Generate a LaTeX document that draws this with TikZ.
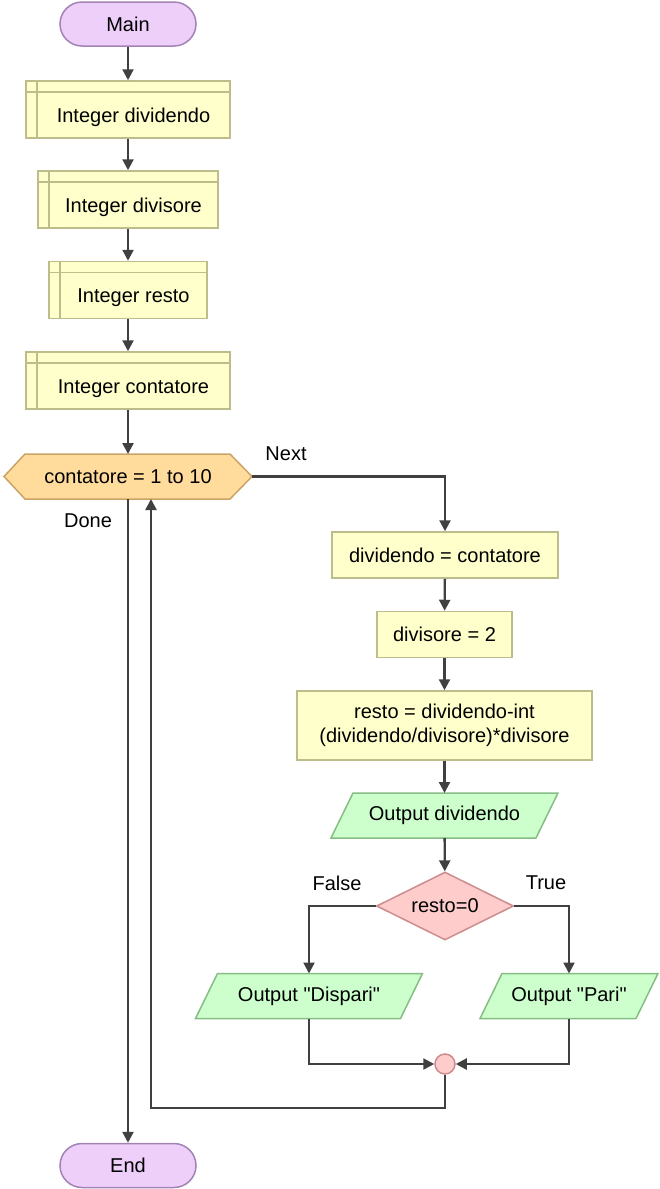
\documentclass[tikz,border=0pt]{standalone}
\usepackage{fontspec}
\setmainfont{Liberation Sans}[Ligatures=TeXOff]
\usetikzlibrary{arrows.meta,shapes.geometric,backgrounds}
\definecolor{termfill}{HTML}{EDCFFA}
\definecolor{termline}{HTML}{A383B5}
\definecolor{declfill}{HTML}{FFFFCC}
\definecolor{declline}{HTML}{BDBD8C}
\definecolor{hexfill}{HTML}{FFDB9C}
\definecolor{hexline}{HTML}{CCA366}
\definecolor{iofill}{HTML}{CCFFCC}
\definecolor{ioline}{HTML}{85BD85}
\definecolor{decfill}{HTML}{FFCCCC}
\definecolor{decline}{HTML}{CC8C8C}
\definecolor{flowline}{HTML}{404040}
\begin{document}
\begin{tikzpicture}[x=1pt,y=-1pt,
  font=\fontsize{20}{24}\selectfont,
  terminal/.style={draw=termline, fill=termfill, line width=1.5pt,
    rounded corners=22pt, minimum width=136pt, minimum height=44pt},
  % declaration box: text sits in the area below/right of the inner rules
  decl/.style={draw=declline, fill=declfill, line width=1.5pt,
    minimum height=57pt, text height=25pt, text depth=0pt,
    execute at begin node={\hspace*{11pt}},
    path picture={
      \draw[declline, line width=1.5pt]
        ([xshift=11pt]path picture bounding box.north west) --
        ([xshift=11pt]path picture bounding box.south west);
      \draw[declline, line width=1.5pt]
        ([yshift=-11pt]path picture bounding box.north west) --
        ([yshift=-11pt]path picture bounding box.north east);}},
  proc/.style={draw=declline, fill=declfill, line width=1.5pt,
    minimum height=46pt, align=center},
  shell/.style={minimum height=45pt, outer sep=0pt, inner sep=0pt},
  hexshape/.style={draw=hexline, fill=hexfill, line width=1.5pt},
  ioshape/.style={draw=ioline, fill=iofill, line width=1.5pt},
  decision/.style={diamond, draw=decline, fill=decfill, line width=1.5pt,
    minimum width=137pt, minimum height=68pt, inner sep=0pt, aspect=2},
  joinpt/.style={circle, draw=decline, fill=decfill, line width=1.5pt,
    minimum size=20pt, inner sep=0pt},
  flow/.style={draw=flowline, line width=2.3pt,
    -{Triangle[length=11pt,width=11pt]}},
  tag/.style={inner sep=0pt}]

\useasboundingbox (0,0) rectangle (659,1189);

% declarations
\node[terminal] (main) at (128,24) {Main};
\node[decl, minimum width=204pt] (d1) at (128,109.5) {Integer dividendo};
\node[decl, minimum width=180pt] (d2) at (128,199.5) {Integer divisore};
\node[decl, minimum width=158pt] (d3) at (128,290) {Integer resto};
\node[decl, minimum width=204pt] (d4) at (128,380.5) {Integer contatore};

% counting loop
\node[shell, minimum width=248pt] (loop) at (128,476.5) {contatore = 1 to 10};
\begin{scope}[on background layer]
  \draw[hexshape] (loop.west) -- ([xshift=21pt]loop.north west)
    -- ([xshift=-22pt]loop.north east) -- (loop.east)
    -- ([xshift=-22pt]loop.south east) -- ([xshift=21pt]loop.south west)
    -- cycle;
\end{scope}
\node[tag] (nextlbl) at (286,454) {Next};
\node[tag] (donelbl) at (88,521) {Done};

% loop body
\node[proc, minimum width=226pt] (p1) at (445,555) {dividendo = contatore};
\node[proc, minimum width=135pt] (p2) at (444.5,634.5) {divisore = 2};
\node[proc, minimum width=295pt, minimum height=69pt] (p3) at (444.5,725.5)
  {resto = dividendo-int\\(dividendo/divisore)*divisore};

\node[shell, minimum width=227pt] (out1) at (444.5,815.5) {Output dividendo};
\node[decision] (dec) at (445,906) {resto=0};
\node[tag] (falselbl) at (337,883) {False};
\node[tag] (truelbl) at (546,883) {True};
\node[shell, minimum width=227pt] (odd) at (309,996) {Output "Dispari"};
\node[shell, minimum width=178pt] (even) at (569,996) {Output "Pari"};
\node[joinpt] (join) at (445,1064) {};

\begin{scope}[on background layer]
  \foreach \n in {out1,odd,even}{
    \draw[ioshape] ([xshift=22pt]\n.north west) -- (\n.north east)
      -- ([xshift=-22pt]\n.south east) -- (\n.south west) -- cycle;
  }
\end{scope}

\node[terminal] (end) at (128,1165.5) {End};

% connectors
\draw[flow] (main) -- (d1);
\draw[flow] (d1) -- (d2);
\draw[flow] (d2) -- (d3);
\draw[flow] (d3) -- (d4);
\draw[flow] (d4) -- (loop);
\draw[flow] (loop.east) -| (p1.north);
\draw[flow] (p1) -- (p2);
\draw[flow] (p2) -- (p3);
\draw[flow] (p3) -- (out1);
\draw[flow] (out1) -- (dec);
\draw[flow] (dec.west) -| (odd.north);
\draw[flow] (dec.east) -| (even.north);
\draw[flow] (odd.south) |- (join.west);
\draw[flow] (even.south) |- (join.east);
\coordinate (back) at (151,1108);
\draw[flow] (join.south) |- (back) -- (back |- loop.south);
\draw[flow] (loop.south) -- (end.north);

\end{tikzpicture}
\end{document}
